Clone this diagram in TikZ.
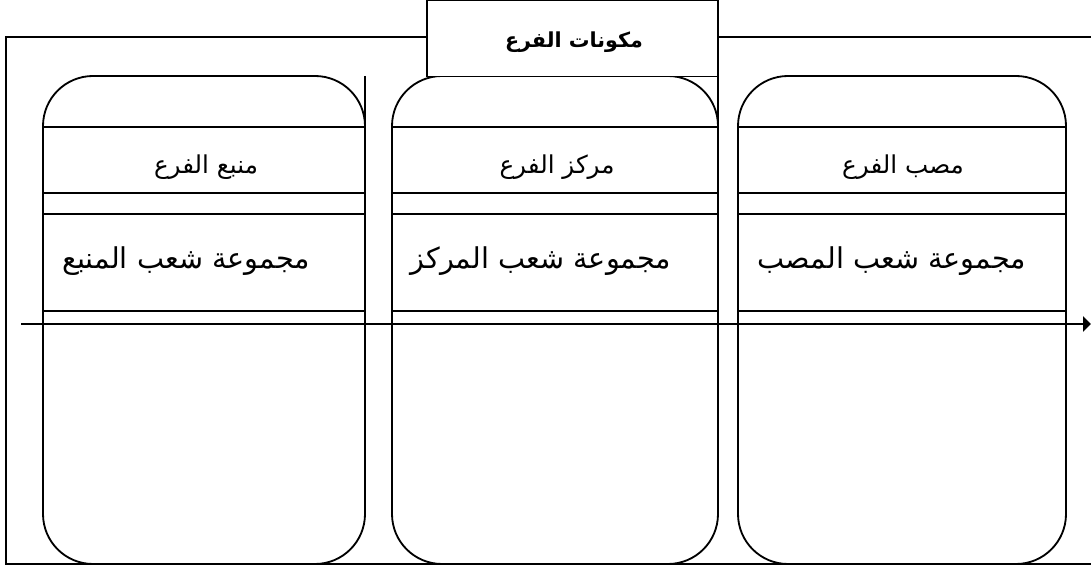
\documentclass[tikz,border=0pt]{standalone}
\usepackage{fontspec}
\TeXXeTstate=1
\newfontfamily\arabicfont[Script=Arabic]{DejaVu Sans}
\usetikzlibrary{arrows.meta}
\tikzset{
	frameline/.style={line width=1.3pt},
	colline/.style={line width=1.3pt},
	colbox/.style={line width=1.3pt, rounded corners=1.25cm},
	titlebox/.style={draw, line width=1.3pt, fill=white, minimum width=7.275cm, minimum height=1.9cm, inner sep=0pt},
	flowarrow/.style={line width=1.7pt, -{Triangle[length=0.2cm, width=0.38cm]}},
	smalllbl/.style={font=\arabicfont\fontsize{17.5}{20}\selectfont},
	biglbl/.style={font=\arabicfont\fontsize{20.4}{24}\selectfont},
	titlelbl/.style={font=\arabicfont\bfseries\fontsize{14.7}{18}\selectfont},
}

\begin{document}
\begin{tikzpicture}[x=0.025cm, y=-0.025cm]
			\useasboundingbox (0,0) rectangle (1091,569);
			
			%%%%% FRAME %%%%%
			\draw[frameline] (1091,37) -- (6,37) -- (6,564) -- (1091,564);
			
			%%%%% COLUMNS %%%%%
			\draw[colbox] (43,564) -- (43,76) -- (365,76) -- (365,564) -- cycle;
			\draw[colline] (365,76) -- (365,127);
			\draw[colline] (43,127) -- (365,127);
			\draw[colline] (43,193) -- (365,193);
			\draw[colline] (43,214) -- (365,214);
			\draw[colline] (43,311) -- (365,311);
			
			\draw[colbox] (392,564) -- (392,76) -- (718,76) -- (718,564) -- cycle;
			\draw[colline] (718,76) -- (718,127);
			\draw[colline] (392,127) -- (718,127);
			\draw[colline] (392,193) -- (718,193);
			\draw[colline] (392,214) -- (718,214);
			\draw[colline] (392,311) -- (718,311);
			
			\draw[colbox] (738,564) -- (738,76) -- (1066,76) -- (1066,564) -- cycle;
			\draw[colline] (738,127) -- (1066,127);
			\draw[colline] (738,193) -- (1066,193);
			\draw[colline] (738,214) -- (1066,214);
			\draw[colline] (738,311) -- (1066,311);
			
			%%%%% TITLE %%%%%
			\node[titlebox] (title) at (572.5,38.5) {};
			\node[titlelbl] (titletext) at (574,42) {\beginR مكونات الفرع\endR};
			
			%%%%% LABELS %%%%%
			\node[smalllbl] (srclbl) at (206,167) {\beginR منبع الفرع\endR};
			\node[smalllbl] (midlbl) at (557,167) {\beginR مركز الفرع\endR};
			\node[smalllbl] (mouthlbl) at (903,167) {\beginR مصب الفرع\endR};
			
			\node[biglbl] (srcgrp) at (186,261) {\beginR مجموعة شعب المنبع\endR};
			\node[biglbl] (midgrp) at (541,261) {\beginR مجموعة شعب المركز\endR};
			\node[biglbl] (mouthgrp) at (892,261) {\beginR مجموعة شعب المصب\endR};
			
			%%%%% FLOW %%%%%
			\coordinate (flowstart) at (21,324);
			\coordinate (flowend) at (1091,324);
			\draw[flowarrow] (flowstart) -- (flowend);
			
\end{tikzpicture}
\end{document}
